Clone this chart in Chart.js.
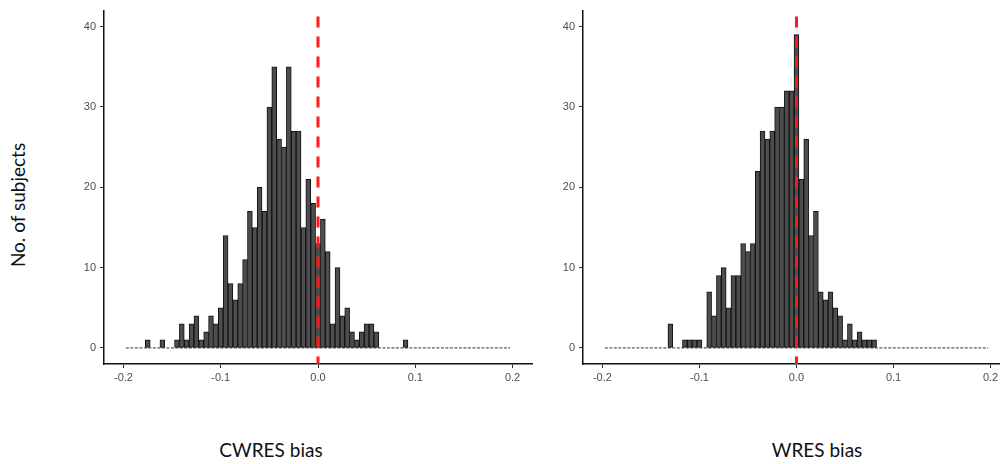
<!DOCTYPE html>
<html>
<head>
<meta charset="utf-8">
<title>CWRES / WRES bias</title>
<script src="https://cdn.jsdelivr.net/npm/chart.js"></script>
<style>
    html, body {
        margin: 0;
        padding: 0;
        width: 1000px;
        height: 464px;
        overflow: hidden;
        background: #fff;
    }
    .panel {
        position: absolute;
        top: 0;
        height: 400px;
    }
    .axis-title {
        position: absolute;
        font-family: Lato, "Liberation Sans", sans-serif;
        font-size: 19px;
        line-height: 19px;
        color: #111;
        white-space: nowrap;
    }
</style>
</head>
<body>

<div class="panel" style="left:40px;width:500px;">
    <canvas id="cwresChart" width="500" height="400"></canvas>
</div>
<div class="panel" style="left:520px;width:490px;">
    <canvas id="wresChart" width="490" height="400"></canvas>
</div>

<div class="axis-title" style="left:17px;top:205px;transform:translate(-50%,-50%) rotate(-90deg);">No. of subjects</div>
<div class="axis-title" style="left:271px;top:440px;transform:translateX(-50%);">CWRES bias</div>
<div class="axis-title" style="left:817px;top:440px;transform:translateX(-50%);">WRES bias</div>

<script>
// Histogram bins: centres run from binStart in steps of binWidth
const binStart = -0.195;
const binWidth = 0.005;

// Counts per bin, CWRES bias
const cwresCounts = [
    0, 0, 0, 0, 1, 0, 0, 1, 0, 0,
    1, 3, 1, 3, 4, 1, 2, 4, 3, 5,
    14, 8, 6, 8, 11, 17, 15, 20, 17, 30,
    35, 26, 25, 35, 27, 27, 15, 21, 18, 13,
    16, 12, 3, 10, 4, 5, 2, 1, 2, 3,
    3, 2, 0, 0, 0, 0, 0, 1, 0, 0,
    0, 0, 0, 0, 0, 0, 0, 0, 0, 0,
    0, 0, 0, 0, 0, 0, 0, 0, 0
];

// Counts per bin, WRES bias
const wresCounts = [
    0, 0, 0, 0, 0, 0, 0, 0, 0, 0,
    0, 0, 0, 3, 0, 0, 1, 1, 1, 1,
    0, 7, 4, 9, 10, 5, 9, 9, 13, 12,
    13, 22, 27, 26, 27, 30, 30, 32, 32, 39,
    21, 26, 14, 17, 7, 6, 7, 5, 4, 1,
    3, 1, 2, 1, 1, 1, 0, 0, 0, 0,
    0, 0, 0, 0, 0, 0, 0, 0, 0, 0,
    0, 0, 0, 0, 0, 0, 0, 0, 0
];

// Axis ticks
const xTickValues = [-0.2, -0.1, 0, 0.1, 0.2];
const xTickLabels = ['-0.2', '-0.1', '0.0', '0.1', '0.2'];
const yTickValues = [0, 10, 20, 30, 40];
const yTickLabels = ['0', '10', '20', '30', '40'];

// Dashed reference line position
const refLineX = 0;

function toPoints(counts) {
    return counts.map((c, i) => ({ x: binStart + i * binWidth, y: c }));
}

// Draws the zero line under the bins and the red dashed line at refLineX
const overlayPlugin = {
    id: 'overlay',
    beforeDatasetsDraw(chart) {
        const { ctx, scales } = chart;
        const n = chart.data.datasets[0].data.length;
        const x0 = scales.x.getPixelForValue(binStart - binWidth / 2);
        const x1 = scales.x.getPixelForValue(binStart + (n - 0.5) * binWidth);
        const y = scales.y.getPixelForValue(0);
        ctx.save();
        ctx.strokeStyle = '#333';
        ctx.lineWidth = 1;
        ctx.setLineDash([3, 1.5]);
        ctx.beginPath();
        ctx.moveTo(x0, y);
        ctx.lineTo(x1, y);
        ctx.stroke();
        ctx.restore();
    },
    afterDatasetsDraw(chart) {
        const { ctx, chartArea, scales } = chart;
        const x = scales.x.getPixelForValue(refLineX);
        ctx.save();
        ctx.strokeStyle = '#ff1a1a';
        ctx.lineWidth = 3;
        ctx.setLineDash([11, 9]);
        ctx.lineDashOffset = -6;
        ctx.beginPath();
        ctx.moveTo(x, chartArea.top);
        ctx.lineTo(x, chartArea.bottom);
        ctx.stroke();
        ctx.restore();
    }
};

function makeChart(canvasId, counts, yAxisWidth, padRight) {
    const ctx = document.getElementById(canvasId).getContext('2d');
    return new Chart(ctx, {
        type: 'bar',
        data: {
            datasets: [{
                data: toPoints(counts),
                backgroundColor: '#4d4d4d',
                borderColor: '#111',
                borderWidth: 1,
                borderSkipped: false,
                barPercentage: 1,
                categoryPercentage: 1
            }]
        },
        options: {
            responsive: false,
            animation: false,
            devicePixelRatio: 1,
            layout: { padding: { top: 5, right: padRight, bottom: 0, left: 0 } },
            plugins: {
                legend: { display: false },
                tooltip: { enabled: false }
            },
            scales: {
                x: {
                    type: 'linear',
                    min: -0.22,
                    max: 0.22,
                    offset: false,
                    afterBuildTicks: scale => {
                        scale.ticks = xTickValues.map(v => ({ value: v }));
                    },
                    afterFit: scale => { scale.height = 36; },
                    ticks: {
                        callback: (value, index) => xTickLabels[index],
                        color: '#4d4d4d',
                        font: { family: '"Liberation Sans", Arial, sans-serif', size: 11 },
                        padding: 3,
                        maxRotation: 0,
                        autoSkip: false
                    },
                    grid: {
                        offset: false,
                        drawOnChartArea: false,
                        drawTicks: true,
                        tickLength: 4,
                        color: '#333'
                    },
                    border: { display: true, color: '#111', width: 1.5 }
                },
                y: {
                    min: -2,
                    max: 42,
                    afterBuildTicks: scale => {
                        scale.ticks = yTickValues.map(v => ({ value: v }));
                    },
                    afterFit: scale => { scale.width = yAxisWidth; },
                    ticks: {
                        callback: (value, index) => yTickLabels[index],
                        color: '#4d4d4d',
                        font: { family: '"Liberation Sans", Arial, sans-serif', size: 11 },
                        padding: 4,
                        autoSkip: false
                    },
                    grid: {
                        offset: false,
                        drawOnChartArea: false,
                        drawTicks: true,
                        tickLength: 4,
                        color: '#333'
                    },
                    border: { display: true, color: '#111', width: 1.5 }
                }
            }
        },
        plugins: [overlayPlugin]
    });
}

makeChart('cwresChart', cwresCounts, 64, 8);
makeChart('wresChart', wresCounts, 63, 0);
</script>
</body>
</html>
